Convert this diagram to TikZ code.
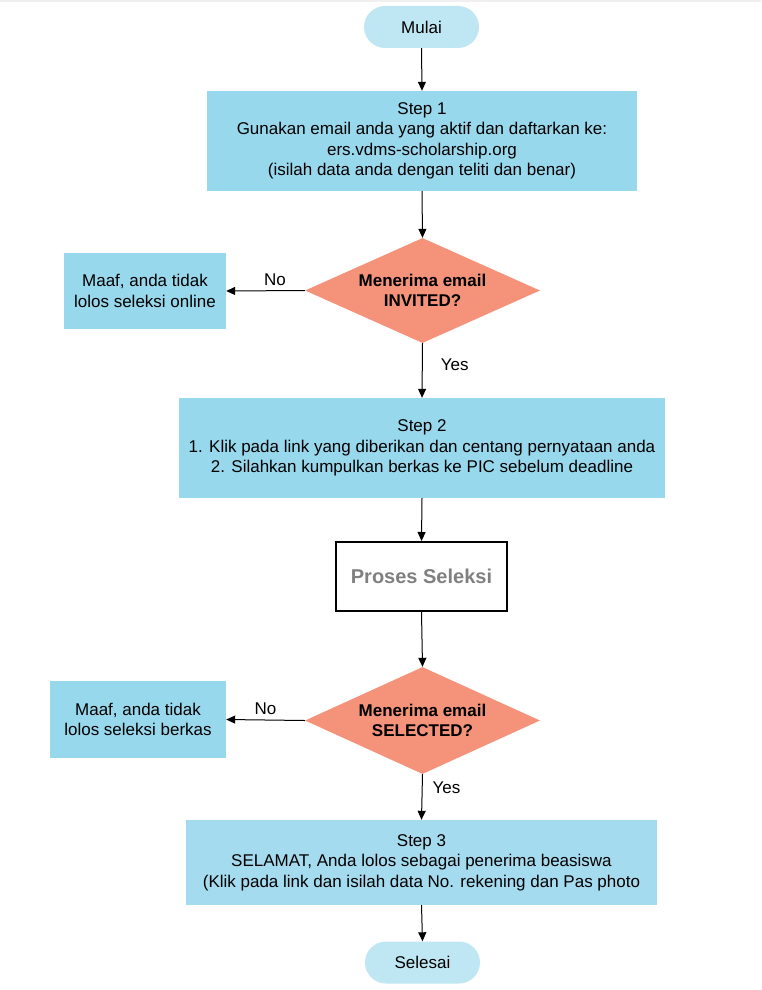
\documentclass[tikz,border=0pt]{standalone}
\usepackage{fontspec}
\setmainfont{Liberation Sans}
\usetikzlibrary{shapes.geometric,arrows.meta}
\definecolor{stepblue}{HTML}{98D8EC}
\definecolor{stepblue3}{HTML}{A4DBEE}
\definecolor{pillblue}{HTML}{BEE6F3}
\definecolor{salmon}{HTML}{F4927A}
\definecolor{greytext}{HTML}{808080}
\begin{document}
\begin{tikzpicture}[x=1pt,y=-1pt,
  every node/.style={font=\fontsize{17}{20.5}\selectfont, inner sep=0pt, align=center},
  pill/.style={draw=none, fill=pillblue, rounded corners=21pt, minimum width=115pt, minimum height=42pt},
  stepbox/.style={draw=none, fill=stepblue},
  decision/.style={diamond, draw=none, fill=salmon, aspect=2.24, font=\fontsize{17}{20.5}\selectfont\bfseries},
  conn/.style={line width=1pt, -{Triangle[length=9pt,width=8pt]}},
  lbl/.style={font=\fontsize{17}{20}\selectfont}
]
\useasboundingbox (0,0) rectangle (761,990);
\fill[gray!12] (0,0) rectangle (761,2);

\node[pill] (start) at (421.5,27) {Mulai};
\node[stepbox, minimum width=430pt, minimum height=100pt] (s1) at (422,141)
  {Step 1\\Gunakan email anda yang aktif dan daftarkan ke:\\ers.vdms-scholarship.org\\(isilah data anda dengan teliti dan benar)};
\node[decision, minimum width=235pt, minimum height=105pt] (d1) at (422.5,290.5) {Menerima email\\INVITED?};
\node[stepbox, minimum width=162pt, minimum height=76pt] (f1) at (145,291) {Maaf, anda tidak\\lolos seleksi online};
\node[stepbox, minimum width=486pt, minimum height=100pt] (s2) at (422,448)
  {Step 2\\1. Klik pada link yang diberikan dan centang pernyataan anda\\2. Silahkan kumpulkan berkas ke PIC sebelum deadline};
\node[draw=black, line width=2pt, fill=white, minimum width=171pt, minimum height=69pt,
  text=greytext, font=\fontsize{20}{22}\selectfont\bfseries] (ps) at (421.5,576.5) {Proses Seleksi};
\node[decision, minimum width=235pt, minimum height=107pt] (d2) at (422.5,720.5) {Menerima email\\SELECTED?};
\node[stepbox, minimum width=176pt, minimum height=77pt] (f2) at (138,719.5) {Maaf, anda tidak\\lolos seleksi berkas};
\node[fill=stepblue3, minimum width=471pt, minimum height=85pt] (s3) at (421.5,862.5)
  {Step 3\\SELAMAT, Anda lolos sebagai penerima beasiswa\\(Klik pada link dan isilah data No. rekening dan Pas photo};
\node[pill] (end) at (422.5,962.5) {Selesai};

\draw[conn] (start.south) -- (s1.north);
\draw[conn] (s1.south) -- (d1.north);
\draw[conn] (d1.west) -- node[lbl, pos=0.38, above=5pt] {No} (f1.east);
\draw[conn] (d1.south) -- node[lbl, right=18pt, pos=0.4] {Yes} (s2.north);
\draw[conn] (s2.south) -- (ps.north);
\draw[conn] (ps.south) -- (d2.north);
\draw[conn] (d2.west) -- node[lbl, pos=0.5, above=5pt] {No} (f2.east);
\draw[conn] (d2.south) -- node[lbl, right=10pt, pos=0.3] {Yes} (s3.north);
\draw[conn] (s3.south) -- (end.north);
\end{tikzpicture}
\end{document}
